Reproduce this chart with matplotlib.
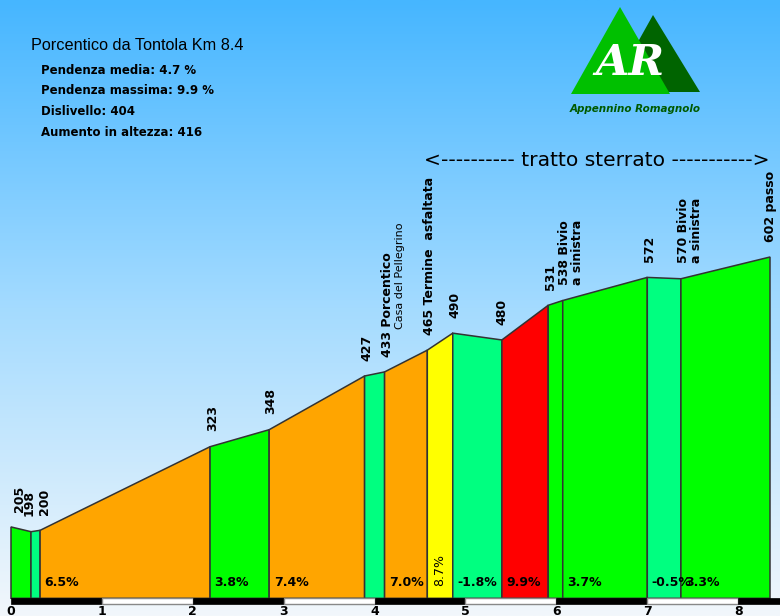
import matplotlib.pyplot as plt
import matplotlib.colors as mcolors
import numpy as np
from matplotlib.patches import Polygon, Rectangle

# profile points: km, elevation
km = [0.0, 0.22, 0.32, 2.19, 2.84, 3.89, 4.11, 4.58, 4.86, 5.40, 5.91, 6.07, 7.00, 7.37, 8.35]
elev = [205, 198, 200, 323, 348, 427, 433, 465, 490, 480, 531, 538, 572, 570, 602]
seg_colors = ['#00ff00', '#00ff80', '#ffa500', '#00ff00', '#ffa500', '#00ff80', '#ffa500',
              '#ffff00', '#00ff80', '#ff0000', '#00ff00', '#00ff00', '#00ff80', '#00ff00']
seg_labels = ['', '', '6.5%', '3.8%', '7.4%', '', '7.0%', '8.7%', '-1.8%', '9.9%', '', '3.7%', '-0.5%', '3.3%']
point_labels = ['205', '198', '200', '323', '348', '427', '433 Porcentico', '465 Termine  asfaltata',
                '490', '480', '531', '538 Bivio\na sinistra', '572', '570 Bivio\na sinistra', '602 passo']
km_ticks = [0, 1, 2, 3, 4, 5, 6, 7, 8]

title = 'Porcentico da Tontola Km 8.4'
stats = ['Pendenza media: 4.7 %', 'Pendenza massima: 9.9 %', 'Dislivello: 404', 'Aumento in altezza: 416']

base = 100
fig = plt.figure(figsize=(7.8, 6.16), dpi=100)
ax = fig.add_axes([0, 0, 1, 1])
x0, x1 = -0.121, 8.46
y0, y1 = 74, 980
ax.set_xlim(x0, x1)
ax.set_ylim(y0, y1)
ax.axis('off')

# sky gradient
cmap = mcolors.LinearSegmentedColormap.from_list('sky', ['#f2f7fb', '#a4dbff', '#46b6ff'])
grad = np.linspace(0, 1, 256).reshape(-1, 1)
ax.imshow(grad, extent=[x0, x1, y0, y1], origin='lower', aspect='auto', cmap=cmap, zorder=0)

for i in range(len(km) - 1):
    pts = [(km[i], base), (km[i], elev[i]), (km[i + 1], elev[i + 1]), (km[i + 1], base)]
    ax.add_patch(Polygon(pts, closed=True, facecolor=seg_colors[i], edgecolor='#333333',
                         lw=1.1, zorder=2))
    if seg_labels[i] == '8.7%':
        ax.text(km[i] + 0.06, 141, seg_labels[i], rotation=90, fontsize=9, va='center',
                ha='left', zorder=3)
    elif seg_labels[i]:
        ax.text(km[i] + 0.05, 123, seg_labels[i], fontsize=9, fontweight='bold', va='center',
                ha='left', zorder=3)

# elevation labels
dx = [0.09, -0.02, 0.05, 0.03, 0.02, 0.03, 0.03, 0.02, 0.02, 0.0, 0.02, 0.09, 0.02, 0.1, 0.0]
for i, lab in enumerate(point_labels):
    ax.annotate(lab, (km[i] + dx[i], elev[i]), xytext=(0, 11), textcoords='offset points',
                rotation=90, fontsize=9, fontweight='bold', ha='center', va='bottom',
                linespacing=0.95, zorder=3)
ax.annotate('Casa del Pellegrino', (km[6] + 0.17, elev[6]), xytext=(0, 31), textcoords='offset points',
            rotation=90, fontsize=8, ha='center', va='bottom', zorder=3)

# km scale bar
end = x1
for k in range(len(km_ticks)):
    right = min(km_ticks[k] + 1, end)
    if k % 2 == 0:
        ax.add_patch(Rectangle((km_ticks[k], base - 8), right - km_ticks[k], 8,
                               facecolor='black', edgecolor='black', lw=0.5, zorder=2))
    else:
        ax.add_patch(Rectangle((km_ticks[k], base - 8), right - km_ticks[k], 8,
                               facecolor='white', edgecolor='#888888', lw=1, zorder=2))
    ax.text(km_ticks[k], base - 10, str(km_ticks[k]), fontsize=9, fontweight='bold',
            ha='center', va='top', zorder=3)

# header text
fig.text(31 / 780, 1 - 46 / 616, title, fontsize=11.7, va='center', ha='left', family='Liberation Sans')
for j, s in enumerate(stats):
    fig.text(41 / 780, 1 - (70 + j * 20.7) / 616, s, fontsize=8.5, fontweight='bold', va='center')

fig.text(597 / 780, 1 - 160 / 616, '<---------- tratto sterrato ----------->', fontsize=14.6,
         va='center', ha='center')

# logo
lax = fig.add_axes([0, 0, 1, 1], zorder=5)
lax.set_xlim(0, 780)
lax.set_ylim(616, 0)
lax.axis('off')
lax.add_patch(Polygon([(653, 15), (700, 92), (610, 92)], closed=True, facecolor='#006400', edgecolor='none'))
lax.add_patch(Polygon([(620, 7), (670, 94), (571, 94)], closed=True, facecolor='#00c000', edgecolor='none'))
lax.text(630, 63, 'AR', color='white', fontsize=31, fontweight='bold', style='italic',
         family='DejaVu Serif', ha='center', va='center')
lax.text(635, 109, 'Appennino Romagnolo', color='#005a00', fontsize=7.5, fontweight='bold',
         style='italic', ha='center', va='center')

fig.savefig('out.png', dpi=100)
